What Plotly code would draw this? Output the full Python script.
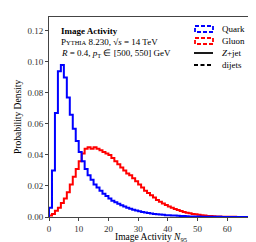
import numpy as np
import plotly.graph_objects as go

bin_width = 1.0
quark = [0.006, 0.030, 0.067, 0.094, 0.098, 0.090, 0.077, 0.066, 0.057, 0.049,
         0.042, 0.036, 0.031, 0.027, 0.024, 0.021, 0.019, 0.017, 0.015, 0.0135,
         0.012, 0.0105, 0.0095, 0.0085, 0.0075, 0.0067, 0.006, 0.0053, 0.0047, 0.0042,
         0.0037, 0.0033, 0.0029, 0.0026, 0.0023, 0.0020, 0.0018, 0.0016, 0.0014, 0.0012,
         0.0011, 0.0010, 0.0009, 0.0008, 0.0007, 0.0006, 0.0005, 0.0004, 0.0004, 0.0003,
         0.0003, 0.0002, 0.0002, 0.0002, 0.0001, 0.0001, 0.0001, 0.0001, 0.0, 0.0,
         0.0, 0.0, 0.0, 0.0, 0.0, 0.0, 0.0, 0.0, 0.0, 0.0]
gluon = [0.001, 0.002, 0.004, 0.006, 0.009, 0.012, 0.016, 0.021, 0.026, 0.031,
         0.036, 0.041, 0.044, 0.045, 0.044, 0.045, 0.044, 0.043, 0.042, 0.041,
         0.040, 0.038, 0.036, 0.034, 0.032, 0.030, 0.028, 0.027, 0.025, 0.023,
         0.021, 0.019, 0.017, 0.0155, 0.014, 0.0125, 0.011, 0.0098, 0.0087, 0.0077,
         0.0068, 0.0060, 0.0052, 0.0045, 0.0039, 0.0033, 0.0028, 0.0024, 0.0020, 0.0017,
         0.0014, 0.0011, 0.0009, 0.0007, 0.0006, 0.0005, 0.0004, 0.0003, 0.0002, 0.0002,
         0.0001, 0.0001, 0.0001, 0.0, 0.0, 0.0, 0.0, 0.0, 0.0, 0.0]

x_ticks = [0, 10, 20, 30, 40, 50, 60]
y_ticks = [0.00, 0.02, 0.04, 0.06, 0.08, 0.10, 0.12]

FONT = "Liberation Serif"


def step_xy(vals):
    edges = np.arange(len(vals) + 1) * bin_width
    x = np.concatenate([[edges[0]], edges])
    y = np.concatenate([[0.0], vals, [vals[-1]]])
    return x, y


fig = go.Figure()
for vals, col in [(gluon, "#ff0000"), (quark, "#0000ff")]:
    x, y = step_xy(vals)
    fig.add_trace(go.Scatter(x=x, y=y, mode="lines", line=dict(color=col, width=2, shape="hv"),
                             showlegend=False, hoverinfo="skip"))

L, R, T, B = 41, 10, 9, 33
W, H = 256, 242
pw, ph = W - L - R, H - T - B


def px(xp):
    return (xp - L) / pw


def py(yp):
    return (H - B - yp) / ph


shapes = []
annotations = []
legend_items = [("Quark", "#0000ff", "rect", 21),
                ("Gluon", "#ff0000", "rect", 33),
                ("<i>Z</i>+jet", "black", "solid", 45),
                ("dijets", "black", "dash", 57)]
for label, col, kind, yc in legend_items:
    if kind == "rect":
        shapes.append(dict(type="rect", xref="paper", yref="paper",
                           x0=px(187), x1=px(205), y0=py(yc - 3), y1=py(yc + 3),
                           line=dict(color=col, width=1.8, dash="4px,2px")))
    else:
        shapes.append(dict(type="line", xref="paper", yref="paper",
                           x0=px(186), x1=px(205), y0=py(yc), y1=py(yc),
                           line=dict(color=col, width=1.8, dash="4px,2.5px" if kind == "dash" else "solid")))
    annotations.append(dict(text=label, xref="paper", yref="paper", x=px(212), y=py(yc),
                            xanchor="left", yanchor="middle", showarrow=False,
                            font=dict(family=FONT, size=9, color="black")))

info = [("<b>Image Activity</b>", 23),
        ("P<span style='font-size:6.5px'>YTHIA</span> 8.230, √<i>s</i> = 14 TeV", 34),
        ("<i>R</i> = 0.4, <i>p</i><sub>T</sub> ∈ [500, 550] GeV", 45)]
for txt, yc in info:
    annotations.append(dict(text=txt, xref="paper", yref="paper", x=px(51), y=py(yc),
                            xanchor="left", yanchor="middle", showarrow=False,
                            font=dict(family=FONT, size=9, color="black")))

annotations.append(dict(text="Probability Density", xref="paper", yref="paper",
                        x=px(10), y=py(109), textangle=-90, xanchor="center", yanchor="middle",
                        showarrow=False, font=dict(family=FONT, size=9.5, color="black")))
annotations.append(dict(text="Image Activity <i>N</i><sub>95</sub>", xref="paper", yref="paper",
                        x=px(143), y=py(222), xanchor="center", yanchor="top",
                        showarrow=False, font=dict(family=FONT, size=9.5, color="black")))

axis_common = dict(showgrid=False, zeroline=False, showline=True, linecolor="#444444",
                   linewidth=1, mirror=True, ticks="outside", ticklen=3, tickwidth=1,
                   tickcolor="#444444", tickfont=dict(family=FONT, size=9, color="#333333"))

fig.update_layout(
    width=W, height=H,
    margin=dict(l=L, r=R, t=T, b=B, autoexpand=False),
    paper_bgcolor="white", plot_bgcolor="white",
    xaxis=dict(range=[0, 69], tickvals=x_ticks, ticktext=[str(v) for v in x_ticks], **axis_common),
    yaxis=dict(range=[0, 0.129], tickvals=y_ticks, ticktext=[f"{v:.2f}" for v in y_ticks], **axis_common),
    shapes=shapes, annotations=annotations, showlegend=False,
)

fig.write_html("out.html")
